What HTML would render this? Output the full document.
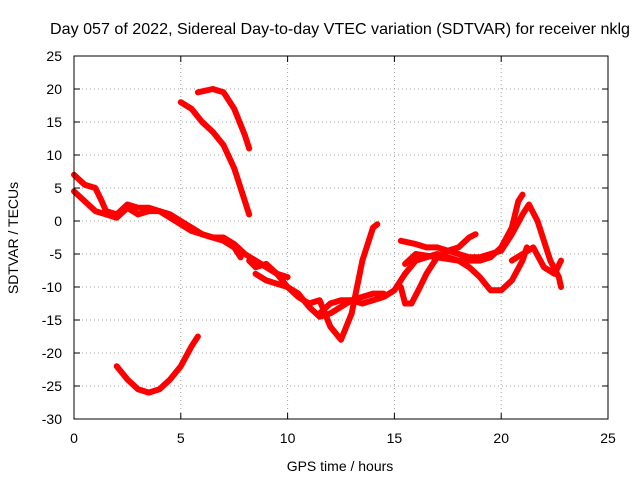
<!DOCTYPE html>
<html><head><meta charset="utf-8"><style>
body{margin:0;background:#fff}
svg{display:block;font-family:"Liberation Sans",sans-serif;font-size:14px}
</style></head><body>
<svg id="c" width="640" height="480">
<text x="340" y="34" text-anchor="middle" font-size="16" textLength="580" lengthAdjust="spacingAndGlyphs">Day 057 of 2022, Sidereal Day-to-day VTEC variation (SDTVAR) for receiver nklg</text>
<text x="340" y="471" text-anchor="middle">GPS time / hours</text>
<text transform="translate(18,238) rotate(-90)" text-anchor="middle">SDTVAR / TECUs</text>
<g id="grid"></g><g id="marks"></g>
<rect x="74" y="56" width="534" height="363" fill="none" stroke="#000"/>
</svg>
<script>
const xTicks=[0,5,10,15,20,25];
const yTicks=[25,20,15,10,5,0,-5,-10,-15,-20,-25,-30];
const s1=[[0,7],[0.5,5.5],[1,5],[1.3,3],[1.5,1.5],[2,1],[2.5,2.5],[3,2],[3.5,2],[4,1.5],[4.5,1],[5,0],[5.5,-1],[6,-2],[6.5,-2.5],[7,-2.5],[7.5,-3.5],[8,-5],[8.5,-6],[9,-7],[9.5,-8],[10,-10],[10.5,-11],[11,-13],[11.5,-14.5],[12,-14],[12.5,-13],[13,-12],[13.5,-11.5],[14,-11],[14.5,-11]];
const s2=[[0,4.5],[0.5,3],[1,1.5],[1.5,1],[2,0.5],[2.5,2],[3,1],[3.5,1.5],[4,1.5],[4.5,0.5],[5,-0.5],[5.5,-1.5],[6,-2],[6.5,-2.5],[7,-3],[7.5,-4],[7.8,-5.5]];
const s3=[[8.2,-6],[8.5,-7],[9,-6.5],[9.5,-8],[10,-8.5]];
const s4=[[5,18],[5.5,17],[6,15],[6.5,13.5],[7,11.5],[7.5,8],[8,3],[8.2,1]];
const s5=[[5.8,19.5],[6.5,20],[7,19.5],[7.5,17],[8,13],[8.2,11]];
const s6=[[2,-22],[2.5,-24],[3,-25.5],[3.5,-26],[4,-25.5],[4.5,-24],[5,-22],[5.5,-19],[5.8,-17.5]];
const s7=[[8.5,-8],[9,-9],[9.5,-9.5],[10,-10],[10.5,-11.5],[11,-12.5],[11.5,-12],[12,-16],[12.5,-18],[13,-14],[13.5,-6],[14,-1],[14.2,-0.5]];
const s8=[[11.5,-14],[12,-12.5],[12.5,-12],[13,-12],[13.5,-12.5],[14,-12],[14.5,-11.5],[15,-10.5],[15.5,-8],[16,-6],[16.5,-5.5],[17,-5],[17.5,-5.5],[18,-6],[18.5,-7],[19,-8.5],[19.5,-10.5],[20,-10.5],[20.5,-9],[21,-6],[21.2,-4]];
const s9=[[15.3,-10],[15.5,-12.5],[15.8,-12.5],[16.2,-10],[16.5,-8],[17,-5.5],[17.5,-4.5],[18,-4],[18.5,-2.5],[18.8,-2]];
const s10=[[15.3,-3],[16,-3.5],[16.5,-4],[17,-4],[17.5,-4.5],[18,-5],[18.5,-5.5],[19,-5.5],[19.5,-5],[20,-4.5],[20.5,-2],[21,1],[21.3,2.5],[21.7,0],[22,-3],[22.3,-6],[22.7,-8.5],[22.8,-10]];
const s11=[[15.5,-6.5],[16,-5],[17,-5.5],[18,-6],[19,-6],[19.5,-5.5],[20,-4],[20.5,-1],[20.8,3],[21,4]];
const s12=[[20.5,-6],[21,-5],[21.5,-4],[22,-7],[22.5,-8],[22.8,-6]];
const series=[s1,s2,s3,s4,s5,s6,s7,s8,s9,s10,s11,s12];
const X=v=>74+v*534/25, Y=v=>56+(25-v)*363/55;
const NS="http://www.w3.org/2000/svg";
const grid=document.getElementById('grid'), marks=document.getElementById('marks');
function mk(t,a,p){const e=document.createElementNS(NS,t);for(const k in a)e.setAttribute(k,a[k]);p.appendChild(e);return e;}
xTicks.forEach(t=>{const x=X(t);
 if(t>0&&t<25){const l=mk('line',{x1:x,x2:x,y1:56,y2:419,stroke:'#a0a0a0','stroke-dasharray':'1,3'},grid);}
 mk('line',{x1:x,x2:x,y1:419,y2:413,stroke:'#000'},grid);mk('line',{x1:x,x2:x,y1:56,y2:62,stroke:'#000'},grid);
 const tx=mk('text',{x:x,y:443,'text-anchor':'middle'},grid);tx.textContent=t;
 });
yTicks.forEach(t=>{const y=Y(t);
 if(t<25&&t>-30){const l=mk('line',{x1:74,x2:608,y1:y,y2:y,stroke:'#a0a0a0','stroke-dasharray':'1,3'},grid);}
 mk('line',{x1:74,x2:80,y1:y,y2:y,stroke:'#000'},grid);mk('line',{x1:608,x2:602,y1:y,y2:y,stroke:'#000'},grid);
 const tx=mk('text',{x:62,y:y+5,'text-anchor':'end'},grid);tx.textContent=t;
 });
series.forEach((s,i)=>{
 const p=mk('polyline',{points:s.map(d=>X(d[0])+','+Y(d[1])).join(' '),fill:'none',stroke:'#f00','stroke-width':6,'stroke-linejoin':'round','stroke-linecap':'round'},marks);
 
 
});
</script>
</body></html>
